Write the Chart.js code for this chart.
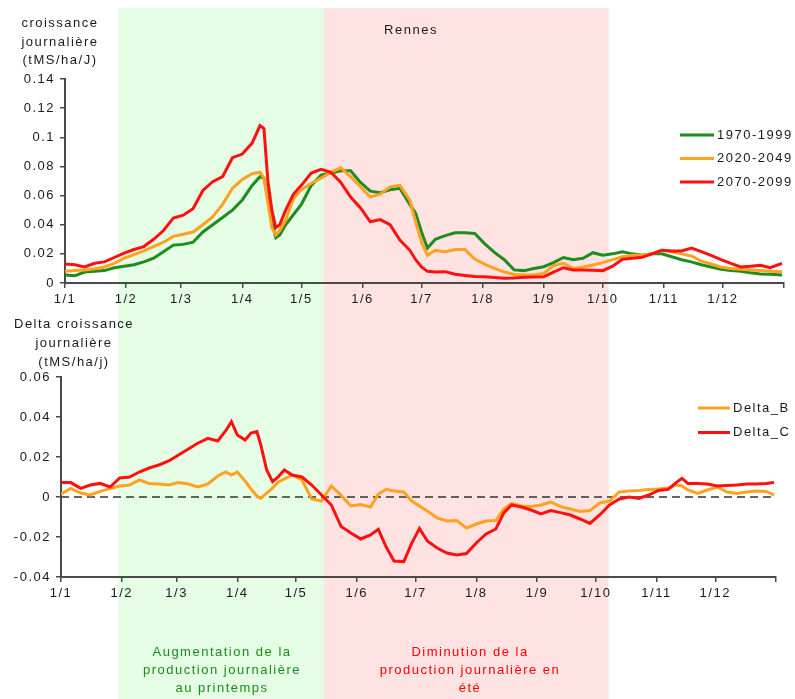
<!DOCTYPE html>
<html lang="fr">
<head>
<meta charset="utf-8">
<title>Croissance journalière - Rennes</title>
<script src="https://cdn.jsdelivr.net/npm/chart.js@4.4.1/dist/chart.umd.min.js"></script>
<style>
  html, body { margin: 0; padding: 0; background: #fff; }
  #page { position: relative; width: 795px; height: 699px; overflow: hidden; }
  #page canvas { position: absolute; left: 0; top: 0; }
  .txt {
    position: absolute; text-align: center; white-space: nowrap;
    font: 13px 'Liberation Sans', Arial, sans-serif; letter-spacing: 1.5px; color: #1a1a1a;
  }
</style>
</head>
<body>
<div id="page">
  <canvas id="graph-haut" width="795" height="699"></canvas>
  <canvas id="graph-bas" width="795" height="699"></canvas>
  <div class="txt" style="left:0;top:14px;width:120px;line-height:18.5px;">croissance<br>journalière<br>(tMS/ha/J)</div>
  <div class="txt" style="left:351px;top:21px;width:120px;line-height:18px;">Rennes</div>
  <div class="txt" style="left:14px;top:314px;width:120px;line-height:19px;">Delta croissance<br>journalière<br>(tMS/ha/j)</div>
  <div class="txt" style="left:112px;top:643px;width:220px;line-height:17.8px;color:#1a8c1a;">Augmentation de la<br>production journalière<br>au printemps</div>
  <div class="txt" style="left:350px;top:643px;width:240px;line-height:17.8px;color:#ff0000;">Diminution de la<br>production journalière en<br>été</div>
</div>
<script>
/* =========================================================
   Croissance journalière de l'herbe - Rennes (Chart.js)
   ========================================================= */

// Axe des jours (jour de l'année, 0 = 1er janvier)
const moisJours = [0, 31, 59, 90, 120, 151, 181, 212, 243, 273, 304, 334, 365];
const moisLabels = ['1/1', '1/2', '1/3', '1/4', '1/5', '1/6', '1/7', '1/8', '1/9', '1/10', '1/11', '1/12', ''];

// Bandes saisonnières (printemps / été), en jours
const bandeDebut = [27, 131.5];
const bandeFin = [131.5, 276];
const bandeCouleurs = ['#e5fce5', '#ffe3e3'];

// Graphique du haut : croissance journalière (tMS/ha/J)
const joursHaut = [0, 5, 10, 15, 20, 25, 30, 35, 40, 45, 50, 55, 60, 65, 70, 75, 80, 85, 90, 95,
  99, 101, 103, 105, 107, 109, 112, 116,
  120, 125, 130, 135, 140, 145, 150, 155, 160, 165, 170, 175,
  178, 181, 184, 188,
  193, 198, 203, 208, 213, 218, 223, 228, 233, 238, 243, 248, 253, 258, 263, 268, 273, 278, 283, 288,
  293, 298, 303, 308, 313, 318, 323, 328, 333, 338, 343, 348, 353, 358,
  364];

const serie1970 = [0.0055, 0.005, 0.0075, 0.008, 0.0085, 0.0105, 0.0115, 0.0125, 0.0145, 0.017, 0.0215, 0.026, 0.0265, 0.028, 0.035, 0.040, 0.045, 0.050, 0.057, 0.067,
  0.073, 0.072, 0.058, 0.042, 0.031, 0.033, 0.040, 0.047,
  0.054, 0.067, 0.074, 0.0755, 0.077, 0.077, 0.069, 0.063, 0.062, 0.064, 0.065, 0.054,
  0.048, 0.035, 0.024, 0.030,
  0.0325, 0.0345, 0.0345, 0.034, 0.027, 0.021, 0.016, 0.009, 0.0085, 0.010, 0.0112, 0.014, 0.0175, 0.016, 0.017, 0.0208, 0.019, 0.020, 0.0215, 0.020,
  0.019, 0.020, 0.020, 0.018, 0.016, 0.0145, 0.0125, 0.011, 0.0095, 0.0085, 0.008, 0.007, 0.0062, 0.006,
  0.0055];

const serie2020 = [0.008, 0.0085, 0.009, 0.0098, 0.011, 0.0135, 0.017, 0.0195, 0.022, 0.025, 0.028, 0.032, 0.0335, 0.035, 0.040, 0.0455, 0.054, 0.065, 0.071, 0.075,
  0.076, 0.072, 0.055, 0.038, 0.033, 0.036, 0.043, 0.058,
  0.064, 0.0685, 0.072, 0.076, 0.079, 0.073, 0.066, 0.059, 0.061, 0.066, 0.067, 0.057,
  0.042, 0.028, 0.019, 0.0225,
  0.0215, 0.023, 0.023, 0.0165, 0.013, 0.010, 0.0075, 0.0058, 0.0055, 0.0055, 0.0065, 0.012, 0.0135, 0.010, 0.011, 0.0124, 0.014, 0.016, 0.018, 0.019,
  0.019, 0.020, 0.0225, 0.0215, 0.020, 0.0185, 0.015, 0.013, 0.011, 0.010, 0.0095, 0.009, 0.0085, 0.008,
  0.0078];

const serie2070 = [0.013, 0.0125, 0.011, 0.0135, 0.0145, 0.0175, 0.0205, 0.023, 0.025, 0.030, 0.036, 0.0445, 0.0465, 0.051, 0.0635, 0.0695, 0.073, 0.086, 0.0885, 0.096,
  0.108, 0.106, 0.070, 0.050, 0.038, 0.040, 0.050, 0.061,
  0.067, 0.0755, 0.078, 0.076, 0.069, 0.059, 0.0515, 0.042, 0.0435, 0.040, 0.0295, 0.0226,
  0.016, 0.011, 0.008, 0.0075,
  0.0078, 0.006, 0.0052, 0.0045, 0.0043, 0.0038, 0.0032, 0.0035, 0.004, 0.0042, 0.0043, 0.0075, 0.0105, 0.009, 0.009, 0.0088, 0.0085, 0.0115, 0.0163, 0.017,
  0.0176, 0.020, 0.0225, 0.022, 0.022, 0.024, 0.0215, 0.019, 0.016, 0.0135, 0.011, 0.0115, 0.0122, 0.0105,
  0.0135];

// Graphique du bas : delta de croissance journalière (tMS/ha/j)
const joursBas = [0, 5, 10, 15, 20, 25, 30, 35, 40, 45, 50, 55, 60, 65, 70, 75, 80,
  84, 87, 90, 94, 97, 100, 102, 105, 108, 111,
  114, 118, 123, 128, 133, 138, 143, 148, 153, 158,
  162, 166, 170, 175, 179, 183, 187, 192, 197, 202,
  207, 212, 217, 222, 226, 230, 235, 240, 245, 250,
  255, 260, 265, 270, 275, 280, 285, 290, 295, 300,
  305, 310, 314, 317, 320, 325, 330, 335, 340, 345,
  350, 355, 360, 364];

const deltaB = [0.0015, 0.0043, 0.002, 0.001, 0.0028, 0.0042, 0.0055, 0.006, 0.0085, 0.0068, 0.0065, 0.006, 0.0072, 0.0065, 0.005, 0.0065, 0.0105,
  0.0125, 0.011, 0.0125, 0.008, 0.004, 0.0005, -0.0007, 0.002, 0.0045, 0.0075,
  0.009, 0.011, 0.0085, -0.001, -0.002, 0.0055, 0.0008, -0.0045, -0.0038, -0.005,
  0.0015, 0.0038, 0.003, 0.0025, -0.002, -0.0045, -0.007, -0.0105, -0.012, -0.0118,
  -0.0155, -0.0135, -0.012, -0.0118, -0.006, -0.0032, -0.0045, -0.0048, -0.004, -0.0025,
  -0.0048, -0.006, -0.0072, -0.0068, -0.003, -0.002, 0.0025, 0.003, 0.0032, 0.0037,
  0.004, 0.0045, 0.006, 0.0055, 0.0035, 0.0018, 0.0035, 0.005, 0.0025, 0.0018,
  0.0025, 0.003, 0.0028, 0.001];

const deltaC = [0.0072, 0.0072, 0.0043, 0.006, 0.0068, 0.005, 0.0095, 0.010, 0.0125, 0.0145, 0.016, 0.018, 0.021, 0.024, 0.027, 0.0293, 0.028,
  0.033, 0.0377, 0.031, 0.0285, 0.032, 0.0327, 0.026, 0.0135, 0.0077, 0.0102,
  0.0135, 0.011, 0.010, 0.006, 0.001, -0.004, -0.0148, -0.018, -0.021, -0.019,
  -0.0162, -0.025, -0.032, -0.0323, -0.0232, -0.0157, -0.022, -0.0255, -0.028, -0.029,
  -0.0283, -0.023, -0.0185, -0.016, -0.008, -0.004, -0.005, -0.0065, -0.0085, -0.0068,
  -0.0078, -0.009, -0.011, -0.0132, -0.009, -0.004, -0.001, 0.0, -0.0007, 0.001,
  0.0033, 0.0038, 0.0072, 0.0093, 0.0068, 0.0068, 0.0065, 0.0055, 0.0058, 0.006,
  0.0065, 0.0065, 0.0068, 0.0072];

// Ligne de référence zéro (pointillés)
const zeroJours = [0, 365];
const zeroValeurs = [0, 0];

const POLICE = "'Liberation Sans', Arial, sans-serif";
const TEXTE = '#1a1a1a';
const AXE = '#4a4a4a';

const points = (jours, vals) => jours.map((d, i) => ({ x: d, y: vals[i] }));

// Bandes colorées derrière les deux graphiques
const bandesPlugin = {
  id: 'bandes',
  beforeDraw(chart, args, opts) {
    if (!opts.actif) return;
    const { ctx, scales: { x } } = chart;
    ctx.save();
    bandeDebut.forEach((d, i) => {
      const x0 = x.getPixelForValue(d);
      const x1 = x.getPixelForValue(bandeFin[i]);
      ctx.fillStyle = bandeCouleurs[i];
      ctx.fillRect(x0, opts.haut, x1 - x0, chart.height - opts.haut);
    });
    ctx.restore();
  }
};

// Espacement des lettres comme sur l'original
const espacePlugin = {
  id: 'espace',
  beforeDraw(chart) { chart.ctx.letterSpacing = '1.5px'; }
};

// Légende posée dans la zone du graphique
const legendePlugin = {
  id: 'legendeCoin',
  afterDraw(chart, args, opts) {
    const ctx = chart.ctx;
    ctx.save();
    ctx.font = '13px ' + POLICE;
    ctx.textBaseline = 'middle';
    ctx.letterSpacing = '1.5px';
    chart.data.datasets.filter(d => !d.sansLegende).forEach((d, i) => {
      const y = opts.y + i * opts.ecart;
      ctx.strokeStyle = d.borderColor;
      ctx.lineWidth = 3;
      ctx.beginPath();
      ctx.moveTo(opts.x, y);
      ctx.lineTo(opts.x + opts.longueur, y);
      ctx.stroke();
      ctx.fillStyle = TEXTE;
      ctx.fillText(d.label, opts.x + opts.longueur + 3, y);
    });
    ctx.restore();
  }
};

function serie(label, jours, vals, couleur, ordre) {
  return {
    label,
    data: points(jours, vals),
    borderColor: couleur,
    backgroundColor: couleur,
    borderWidth: 3,
    pointRadius: 0,
    tension: 0,
    fill: false,
    order: ordre
  };
}

function options(cfg) {
  return {
    responsive: false,
    animation: false,
    devicePixelRatio: 1,
    layout: { padding: cfg.padding },
    plugins: {
      legend: { display: false },
      tooltip: { enabled: false },
      bandes: cfg.bandes,
      legendeCoin: cfg.legende
    },
    scales: {
      x: {
        type: 'linear',
        min: 0,
        max: 365,
        afterBuildTicks: s => { s.ticks = moisJours.map(v => ({ value: v })); },
        afterFit: s => { s.height = 27; },
        grid: { drawOnChartArea: false, color: AXE, lineWidth: 1.5, tickLength: 5 },
        border: { color: AXE, width: 2 },
        ticks: {
          autoSkip: false,
          maxRotation: 0,
          padding: 4,
          color: TEXTE,
          font: { family: POLICE, size: 13 },
          callback: (v, i) => moisLabels[i]
        }
      },
      y: {
        min: cfg.ymin,
        max: cfg.ymax,
        afterFit: s => { s.width = cfg.largeurY; },
        grid: { drawOnChartArea: false, color: AXE, lineWidth: 1.5, tickLength: 5 },
        border: { color: AXE, width: 2 },
        ticks: {
          stepSize: 0.02,
          padding: 5,
          color: TEXTE,
          font: { family: POLICE, size: 13 },
          callback: v => String(+v.toFixed(2))
        }
      }
    }
  };
}

Chart.register(bandesPlugin, espacePlugin, legendePlugin);

new Chart(document.getElementById('graph-haut'), {
  type: 'line',
  data: {
    datasets: [
      serie('1970-1999', joursHaut, serie1970, '#1e8c1e', 3),
      serie('2020-2049', joursHaut, serie2020, '#ffa21f', 2),
      serie('2070-2099', joursHaut, serie2070, '#ff1010', 1)
    ]
  },
  options: options({
    padding: { top: 79, right: 11, bottom: 389, left: 0 },
    largeurY: 65,
    ymin: 0,
    ymax: 0.14,
    bandes: { actif: true, haut: 8 },
    legende: { x: 680, y: 135, ecart: 23.5, longueur: 34 }
  })
});

new Chart(document.getElementById('graph-bas'), {
  type: 'line',
  data: {
    datasets: [
      serie('Delta_B', joursBas, deltaB, '#ffa21f', 2),
      serie('Delta_C', joursBas, deltaC, '#ff1010', 1),
      Object.assign(serie('zéro', zeroJours, zeroValeurs, '#333333', 5), {
        borderWidth: 1.5,
        borderDash: [8, 5],
        sansLegende: true
      })
    ]
  },
  options: options({
    padding: { top: 377, right: 19, bottom: 95, left: 0 },
    largeurY: 61,
    ymin: -0.04,
    ymax: 0.06,
    bandes: { actif: false },
    legende: { x: 698, y: 408, ecart: 24.5, longueur: 32 }
  })
});
</script>
</body>
</html>
